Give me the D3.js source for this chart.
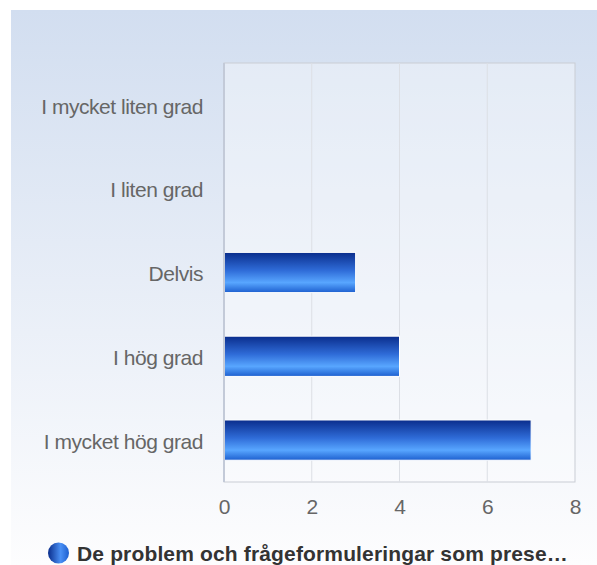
<!DOCTYPE html>
<html>
<head>
<meta charset="utf-8">
<script src="https://cdn.jsdelivr.net/npm/d3@7"></script>
<style>
  body { margin: 0; background: #fff; }
  svg { display: block; font-family: "Liberation Sans", Arial, sans-serif; }
</style>
</head>
<body>
<div id="chart"></div>
<script>
// data
const categories = ["I mycket liten grad", "I liten grad", "Delvis", "I hög grad", "I mycket hög grad"];
const values = [0, 0, 3, 4, 7];
const xTicks = [0, 2, 4, 6, 8];
const seriesName = "De problem och frågeformuleringar som prese…";

const width = 597, height = 565;
const margin = {top: 63, right: 22, bottom: 83, left: 224};

const svg = d3.select('#chart').append('svg')
  .attr('width', width)
  .attr('height', height);

const defs = svg.append('defs');

// outer background gradient
const bg = defs.append('linearGradient').attr('id', 'bg')
  .attr('x1', 0).attr('y1', 0).attr('x2', 0).attr('y2', 1);
bg.append('stop').attr('offset', 0).attr('stop-color', '#d2def0');
bg.append('stop').attr('offset', 1).attr('stop-color', '#fdfdfe');

// bar gradient (vertical)
const bar = defs.append('linearGradient').attr('id', 'bar')
  .attr('x1', 0).attr('y1', 0).attr('x2', 0).attr('y2', 1);
bar.append('stop').attr('offset', 0).attr('stop-color', '#0a2d8c');
bar.append('stop').attr('offset', 0.45).attr('stop-color', '#2f6cd8');
bar.append('stop').attr('offset', 0.75).attr('stop-color', '#58a6ff');
bar.append('stop').attr('offset', 1).attr('stop-color', '#1d5fcf');

// legend marker gradient (horizontal)
const dot = defs.append('linearGradient').attr('id', 'dot')
  .attr('x1', 0).attr('y1', 0).attr('x2', 1).attr('y2', 0);
dot.append('stop').attr('offset', 0).attr('stop-color', '#0a2d8c');
dot.append('stop').attr('offset', 0.6).attr('stop-color', '#4a90f5');
dot.append('stop').attr('offset', 1).attr('stop-color', '#1d5fcf');

svg.append('rect')
  .attr('x', 11).attr('y', 10)
  .attr('width', width - 11).attr('height', height - 10)
  .attr('fill', 'url(#bg)');

const x = d3.scaleLinear()
  .domain([0, 8])
  .range([margin.left, width - margin.right]);

const y = d3.scaleBand()
  .domain(categories)
  .range([margin.top, height - margin.bottom])
  .paddingInner(0.52)
  .paddingOuter(0.26);

// plot area
svg.append('rect')
  .attr('x', x(0)).attr('y', margin.top)
  .attr('width', x(8) - x(0)).attr('height', height - margin.bottom - margin.top)
  .attr('fill', '#ffffff').attr('fill-opacity', 0.35)
  .attr('stroke', '#c9cdd4');

// grid
svg.append('g')
  .selectAll('line')
  .data(xTicks.slice(1, -1))
  .join('line')
  .attr('x1', d => x(d)).attr('x2', d => x(d))
  .attr('y1', margin.top).attr('y2', height - margin.bottom)
  .attr('stroke', '#dcdfe5');

// bars
svg.append('g')
  .selectAll('rect')
  .data(values)
  .join('rect')
  .attr('x', x(0))
  .attr('y', (d, i) => y(categories[i]))
  .attr('width', d => x(d) - x(0))
  .attr('height', y.bandwidth())
  .attr('fill', 'url(#bar)')
  .attr('stroke', d => d > 0 ? '#ffffff' : 'none')
  .attr('stroke-width', 1);

// left axis line
svg.append('line')
  .attr('x1', x(0)).attr('x2', x(0))
  .attr('y1', margin.top).attr('y2', height - margin.bottom)
  .attr('stroke', '#c3cad8').attr('stroke-width', 2);

// category labels
const yAxis = d3.axisLeft(y).tickSize(0).tickPadding(21);
svg.append('g')
  .attr('transform', `translate(${x(0)},2)`)
  .call(yAxis)
  .call(g => g.select('.domain').remove())
  .selectAll('text')
  .attr('font-size', 21)
  .attr('letter-spacing', -0.45)
  .attr('fill', '#666');

// x ticks
const xAxis = d3.axisBottom(x).tickValues(xTicks).tickSize(0).tickPadding(17);
svg.append('g')
  .attr('transform', `translate(0,${height - margin.bottom})`)
  .call(xAxis)
  .call(g => g.select('.domain').remove())
  .selectAll('text')
  .attr('font-size', 21)
  .attr('fill', '#666');

// legend
const legend = svg.append('g').attr('transform', 'translate(58.5,553)');
legend.append('circle').attr('r', 10.5).attr('fill', 'url(#dot)');
legend.append('text')
  .attr('x', 18.5).attr('y', 8)
  .attr('font-size', 21).attr('font-weight', 'bold')
  .attr('letter-spacing', 0.15)
  .attr('fill', '#333')
  .text(seriesName);
</script>
</body>
</html>
